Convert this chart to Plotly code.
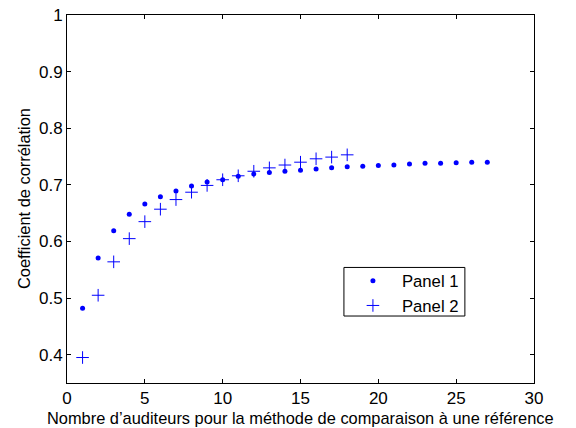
import plotly.graph_objects as go

x1 = list(range(1, 28))
panel1 = [0.482, 0.571, 0.619, 0.648, 0.666, 0.679, 0.689, 0.698, 0.705, 0.709,
          0.715, 0.719, 0.722, 0.724, 0.726, 0.728, 0.730, 0.732, 0.733, 0.734,
          0.735, 0.737, 0.738, 0.738, 0.739, 0.740, 0.740]
x2 = list(range(1, 19))
panel2 = [0.395, 0.505, 0.564, 0.605, 0.635, 0.657, 0.674, 0.687, 0.699, 0.709,
          0.716, 0.724, 0.730, 0.735, 0.740, 0.746, 0.749, 0.753]

xticks = [0, 5, 10, 15, 20, 25, 30]
yticks = [0.4, 0.5, 0.6, 0.7, 0.8, 0.9, 1]

fig = go.Figure()
fig.add_trace(go.Scatter(x=x1, y=panel1, mode="markers", name="Panel 1",
                         marker=dict(symbol="circle", size=5, color="#0000ff")))
fig.add_trace(go.Scatter(x=x2, y=panel2, mode="markers", name="Panel 2",
                         marker=dict(symbol="cross-thin-open", size=9, color="#0000ff",
                                     line=dict(width=1, color="#0000ff"))))

family = "Liberation Sans, Arial, sans-serif"
font = dict(family=family, size=17, color="black")
title_font = dict(family=family, size=16.4, color="black")
legend_font = dict(family=family, size=16.7, color="black")
axis_common = dict(showgrid=False, zeroline=False, showline=True, linecolor="black",
                   linewidth=1, mirror="ticks", ticks="inside", ticklen=4,
                   tickcolor="black", tickfont=font, automargin=False,
                   ticklabeloverflow="allow")
fig.update_layout(
    width=576, height=428,
    margin=dict(l=67, r=42, t=15, b=45, pad=0),
    paper_bgcolor="white", plot_bgcolor="white",
    font=font,
    xaxis=dict(range=[0, 30], tickvals=xticks, ticktext=[str(v) for v in xticks],
               **axis_common),
    yaxis=dict(range=[0.35, 1], tickvals=yticks, ticktext=[("%g" % v) for v in yticks],
               **axis_common),
    legend=dict(x=0.593, y=0.325, xanchor="left", yanchor="top",
                borderwidth=0, bgcolor="rgba(0,0,0,0)",
                font=legend_font, itemwidth=48, tracegroupgap=0),
    showlegend=True,
    shapes=[dict(type="rect", xref="paper", yref="paper",
                 x0=0.593, x1=0.852, y0=0.182, y1=0.314,
                 line=dict(color="black", width=1), fillcolor="white", layer="below")],
    annotations=[
        dict(text="Nombre d\u2019auditeurs pour la méthode de comparaison à une référence",
             xref="paper", yref="paper", x=0.5, y=-0.095, xanchor="center", yanchor="middle",
             showarrow=False, font=title_font),
        dict(text="Coefficient de corrélation", textangle=-90,
             xref="paper", yref="paper", x=-0.092, y=0.5, xanchor="center", yanchor="middle",
             showarrow=False, font=title_font),
    ],
)
fig.write_html("out.html", config={"displayModeBar": False},
               post_script="document.body.style.margin='0';")
